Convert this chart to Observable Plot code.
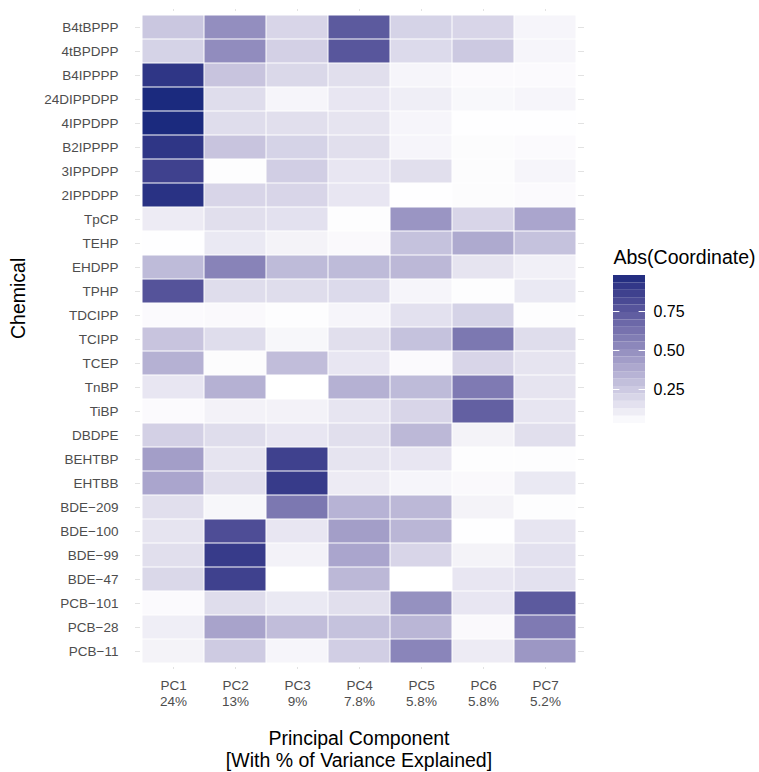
<!DOCTYPE html>
<html><head><meta charset="utf-8">
<script src="https://cdn.jsdelivr.net/npm/d3@7"></script>
<script src="https://cdn.jsdelivr.net/npm/@observablehq/plot@0.6"></script>
<style>
body{margin:0;background:#fff;font-family:"Liberation Sans",Arial,Helvetica,sans-serif}
#wrap{position:relative;width:759px;height:772px;overflow:hidden}
#legend{position:absolute;left:600px;top:240px}
</style></head><body><div id="wrap"><div id="chart"></div><div id="legend"></div></div>
<script>
const chemicals = ["B4tBPPP","4tBPDPP","B4IPPPP","24DIPPDPP","4IPPDPP","B2IPPPP","3IPPDPP","2IPPDPP","TpCP","TEHP","EHDPP","TPHP","TDCIPP","TCIPP","TCEP","TnBP","TiBP","DBDPE","BEHTBP","EHTBB","BDE−209","BDE−100","BDE−99","BDE−47","PCB−101","PCB−28","PCB−11"];
const pcs = ["PC1","PC2","PC3","PC4","PC5","PC6","PC7"];
const pcVariance = ["24%","13%","9%","7.8%","5.8%","5.8%","5.2%"];

const pc1 = [0.26,0.21,0.92,0.98,0.98,0.92,0.86,0.94,0.11,0.035,0.31,0.77,0.05,0.27,0.35,0.13,0.05,0.22,0.43,0.40,0.16,0.14,0.16,0.19,0.05,0.10,0.08];
const pc2 = [0.50,0.51,0.27,0.17,0.17,0.27,0.04,0.20,0.16,0.12,0.55,0.17,0.055,0.17,0.045,0.35,0.085,0.17,0.14,0.16,0.065,0.80,0.89,0.86,0.17,0.41,0.24];
const pc3 = [0.20,0.22,0.19,0.07,0.16,0.21,0.23,0.20,0.15,0.08,0.31,0.17,0.04,0.065,0.30,0.032,0.085,0.13,0.86,0.89,0.60,0.13,0.085,0.032,0.12,0.30,0.07];
const pc4 = [0.74,0.76,0.16,0.13,0.14,0.16,0.13,0.13,0.04,0.055,0.31,0.18,0.07,0.16,0.13,0.35,0.135,0.16,0.14,0.11,0.34,0.43,0.40,0.32,0.16,0.28,0.23];
const pc5 = [0.21,0.18,0.07,0.10,0.07,0.07,0.16,0.035,0.47,0.28,0.32,0.07,0.15,0.28,0.05,0.31,0.20,0.32,0.13,0.07,0.32,0.33,0.20,0.032,0.49,0.33,0.54];
const pc6 = [0.20,0.25,0.05,0.06,0.035,0.045,0.045,0.045,0.20,0.38,0.14,0.04,0.21,0.60,0.20,0.59,0.71,0.08,0.04,0.055,0.08,0.035,0.08,0.13,0.13,0.055,0.11];
const pc7 = [0.07,0.07,0.05,0.07,0.035,0.05,0.07,0.05,0.40,0.28,0.09,0.12,0.04,0.17,0.14,0.14,0.135,0.16,0.04,0.12,0.04,0.135,0.15,0.15,0.74,0.59,0.46];

const legendTicks = [0.25, 0.50, 0.75];
const legendTitle = "Abs(Coordinate)";
const xTitle = "Principal Component\n[With % of Variance Explained]";
const yTitle = "Chemical";

const series = [pc1,pc2,pc3,pc4,pc5,pc6,pc7];
const data = [];
series.forEach((vals, j) => vals.forEach((v, i) => data.push({pc: pcs[j], chem: chemicals[i], value: v})));

const vMin = 0.032, vMax = 0.981;
const colorScale = {type: "linear", domain: [vMin, vMax], range: ["#ffffff", "#1b2a7e"], interpolate: "lab"};
const font = '"Liberation Sans", Arial, Helvetica, sans-serif';

const chart = Plot.plot({
  width: 759, height: 772,
  marginTop: 10, marginBottom: 105, marginLeft: 140, marginRight: 182,
  style: {fontFamily: font, fontSize: "13.5px", background: "white", overflow: "visible"},
  x: {domain: pcs, padding: 0, axis: null},
  y: {domain: chemicals, padding: 0, axis: null},
  color: colorScale,
  marks: [
    Plot.cell(data, {x: "pc", y: "chem", fill: "value", inset: 0.5}),
    Plot.axisY({anchor: "left", tickSize: 5, tickPadding: 17, fontSize: 13.5, fill: "#4d4d4d", stroke: "#e2e2e2", label: null}),
    Plot.axisY({anchor: "right", tickSize: 6, tickFormat: () => "", stroke: "#e2e2e2", label: null}),
    Plot.axisX({anchor: "bottom", tickSize: 2, tickPadding: 9, lineHeight: 1.2, fontSize: 13.5,
      tickFormat: d => `${d}\n${pcVariance[pcs.indexOf(d)]}`, fill: "#4d4d4d", stroke: "#e2e2e2", label: null}),
    Plot.axisX({anchor: "top", tickSize: 2, tickFormat: () => "", stroke: "#e2e2e2", label: null}),
    Plot.text([xTitle], {text: d => d, frameAnchor: "bottom", lineAnchor: "top", dy: 63, fontSize: 19.5, lineHeight: 1.08, fill: "black"}),
    Plot.text([yTitle], {text: d => d, frameAnchor: "left", rotate: -90, dx: -122, fontSize: 19.5, fill: "black"})
  ]
});
document.getElementById("chart").appendChild(chart);

const nb = 20, step = (vMax - vMin) / nb;
const bins = d3.range(nb).map(i => ({lo: vMin + i * step, hi: vMin + (i + 1) * step}));
const legend = Plot.plot({
  width: 159, height: 200, margin: 0,
  style: {fontFamily: font, background: "transparent"},
  x: {domain: [0, 1], range: [13, 45], axis: null},
  y: {domain: [vMin, vMax], range: [183, 35], axis: null},
  color: colorScale,
  marks: [
    Plot.rect(bins, {x1: 0, x2: 1, y1: "lo", y2: "hi", fill: d => (d.lo + d.hi) / 2}),
    Plot.ruleY(legendTicks, {y: d => d, x1: 0, x2: 0.2, stroke: "white", strokeWidth: 1}),
    Plot.ruleY(legendTicks, {y: d => d, x1: 0.8, x2: 1, stroke: "white", strokeWidth: 1}),
    Plot.text(legendTicks, {x: 1, y: d => d, text: d => d.toFixed(2), dx: 8, textAnchor: "start", fontSize: 16, fill: "black"}),
    Plot.text([legendTitle], {text: d => d, frameAnchor: "top-left", dx: 13, dy: 17, lineAnchor: "middle", textAnchor: "start", fontSize: 19.5, fill: "black"})
  ]
});
document.getElementById("legend").appendChild(legend);
</script></body></html>
